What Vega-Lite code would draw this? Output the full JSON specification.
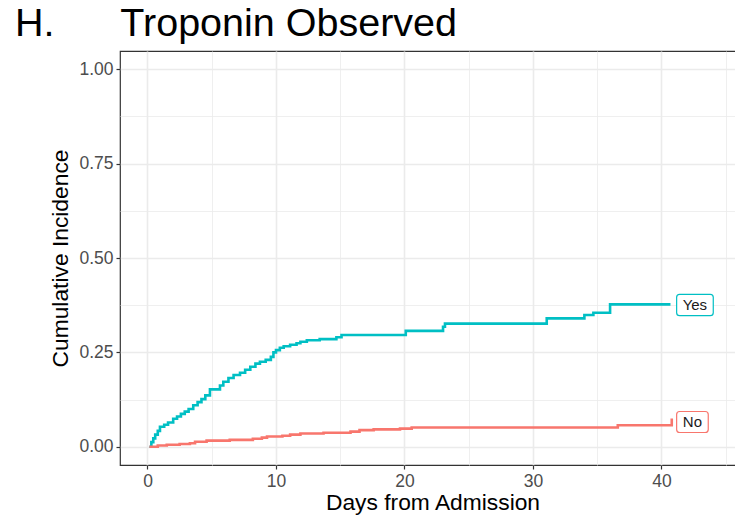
{
  "$schema": "https://vega.github.io/schema/vega-lite/v6.json",
  "width": 625,
  "height": 414,
  "autosize": {"type": "none"},
  "padding": {"left": 120, "top": 51, "right": 0, "bottom": 63},
  "background": "white",
  "title": {
    "text": "H.\u00a0\u00a0\u00a0\u00a0\u00a0\u00a0Troponin Observed",
    "anchor": "start",
    "frame": "group",
    "dx": -105,
    "offset": 7,
    "fontSize": 39.5,
    "font": "Liberation Sans",
    "fontWeight": "normal",
    "color": "#000000"
  },
  "config": {
    "view": {"stroke": "#333333", "strokeWidth": 1.2},
    "font": "Liberation Sans",
    "axis": {
      "domain": false,
      "gridColor": "#EBEBEB",
      "tickColor": "#333333",
      "tickSize": 4,
      "labelColor": "#4D4D4D",
      "labelFontSize": 17.5,
      "labelFont": "Liberation Sans",
      "titleFont": "Liberation Sans",
      "titleFontSize": 22.8,
      "titleFontWeight": "normal",
      "titleColor": "#000000"
    }
  },
  "datasets": {
    "curves": [
      {"group": "Yes", "day": 0.15, "ci": 0},
      {"group": "Yes", "day": 0.3, "ci": 0.012},
      {"group": "Yes", "day": 0.45, "ci": 0.022},
      {"group": "Yes", "day": 0.6, "ci": 0.032},
      {"group": "Yes", "day": 0.8, "ci": 0.042},
      {"group": "Yes", "day": 0.97, "ci": 0.053},
      {"group": "Yes", "day": 1.3, "ci": 0.058},
      {"group": "Yes", "day": 1.6, "ci": 0.064},
      {"group": "Yes", "day": 2.0, "ci": 0.074},
      {"group": "Yes", "day": 2.3, "ci": 0.08},
      {"group": "Yes", "day": 2.6, "ci": 0.087},
      {"group": "Yes", "day": 2.9, "ci": 0.093},
      {"group": "Yes", "day": 3.2, "ci": 0.1},
      {"group": "Yes", "day": 3.56, "ci": 0.11},
      {"group": "Yes", "day": 3.9, "ci": 0.118},
      {"group": "Yes", "day": 4.2, "ci": 0.126},
      {"group": "Yes", "day": 4.5, "ci": 0.136},
      {"group": "Yes", "day": 4.86, "ci": 0.152},
      {"group": "Yes", "day": 5.64, "ci": 0.162},
      {"group": "Yes", "day": 5.9, "ci": 0.172},
      {"group": "Yes", "day": 6.3, "ci": 0.182},
      {"group": "Yes", "day": 6.7, "ci": 0.19},
      {"group": "Yes", "day": 7.2, "ci": 0.196},
      {"group": "Yes", "day": 7.6, "ci": 0.204},
      {"group": "Yes", "day": 8.0, "ci": 0.212},
      {"group": "Yes", "day": 8.4, "ci": 0.22},
      {"group": "Yes", "day": 8.75, "ci": 0.225},
      {"group": "Yes", "day": 9.2, "ci": 0.23},
      {"group": "Yes", "day": 9.6, "ci": 0.238},
      {"group": "Yes", "day": 9.8, "ci": 0.25},
      {"group": "Yes", "day": 10.0, "ci": 0.256},
      {"group": "Yes", "day": 10.3, "ci": 0.262},
      {"group": "Yes", "day": 10.6, "ci": 0.266},
      {"group": "Yes", "day": 11.1, "ci": 0.27},
      {"group": "Yes", "day": 11.6, "ci": 0.274},
      {"group": "Yes", "day": 11.9, "ci": 0.278},
      {"group": "Yes", "day": 12.4, "ci": 0.282},
      {"group": "Yes", "day": 13.4, "ci": 0.285},
      {"group": "Yes", "day": 14.7, "ci": 0.29},
      {"group": "Yes", "day": 15.1, "ci": 0.296},
      {"group": "Yes", "day": 20.1, "ci": 0.307},
      {"group": "Yes", "day": 23.0, "ci": 0.318},
      {"group": "Yes", "day": 23.15, "ci": 0.326},
      {"group": "Yes", "day": 31.07, "ci": 0.34},
      {"group": "Yes", "day": 34.0, "ci": 0.349},
      {"group": "Yes", "day": 34.7, "ci": 0.355},
      {"group": "Yes", "day": 36.0, "ci": 0.377},
      {"group": "Yes", "day": 40.7, "ci": 0.377},
      {"group": "No", "day": 0.15, "ci": 0},
      {"group": "No", "day": 0.8, "ci": 0.003},
      {"group": "No", "day": 1.5, "ci": 0.005},
      {"group": "No", "day": 2.5, "ci": 0.007},
      {"group": "No", "day": 3.3, "ci": 0.009},
      {"group": "No", "day": 3.7, "ci": 0.013},
      {"group": "No", "day": 4.6, "ci": 0.016},
      {"group": "No", "day": 6.4, "ci": 0.018},
      {"group": "No", "day": 8.2, "ci": 0.021},
      {"group": "No", "day": 8.9, "ci": 0.024},
      {"group": "No", "day": 9.3, "ci": 0.027},
      {"group": "No", "day": 10.5, "ci": 0.029},
      {"group": "No", "day": 11.1, "ci": 0.032},
      {"group": "No", "day": 11.9, "ci": 0.035},
      {"group": "No", "day": 13.7, "ci": 0.037},
      {"group": "No", "day": 15.8, "ci": 0.04},
      {"group": "No", "day": 16.5, "ci": 0.044},
      {"group": "No", "day": 17.6, "ci": 0.046},
      {"group": "No", "day": 19.65, "ci": 0.048},
      {"group": "No", "day": 20.56, "ci": 0.051},
      {"group": "No", "day": 36.6, "ci": 0.057},
      {"group": "No", "day": 40.8, "ci": 0.075}
    ],
    "labels": [
      {"group": "Yes", "day": 42.6, "ci": 0.3755, "left": 41.18, "right": 44.03, "low": 0.3471, "high": 0.4038},
      {"group": "No", "day": 42.41, "ci": 0.0654, "left": 41.18, "right": 43.64, "low": 0.0376, "high": 0.0933}
    ]
  },
  "layer": [
    {
      "data": {"name": "curves"},
      "mark": {"type": "line", "interpolate": "step-after", "strokeWidth": 2.6, "clip": true},
      "encoding": {
        "x": {
          "field": "day", "type": "quantitative",
          "scale": {"domain": [-2.14, 46.5], "nice": false, "zero": false},
          "axis": {
            "title": "Days from Admission",
            "values": [0, 5, 10, 15, 20, 25, 30, 35, 40, 45],
            "labelExpr": "datum.value % 10 === 0 ? datum.label : ''",
            "gridWidth": {"condition": {"test": "datum.value % 10 !== 0", "value": 0.8}, "value": 1.6},
            "tickOpacity": {"condition": {"test": "datum.value % 10 !== 0", "value": 0}, "value": 1},
            "tickWidth": 1.2,
            "labelPadding": 3,
            "titlePadding": 2
          }
        },
        "y": {
          "field": "ci", "type": "quantitative",
          "scale": {"domain": [-0.0485, 1.0485], "nice": false, "zero": false},
          "axis": {
            "title": "Cumulative Incidence",
            "values": [0, 0.125, 0.25, 0.375, 0.5, 0.625, 0.75, 0.875, 1],
            "format": ".2f",
            "labelExpr": "datum.value % 0.25 === 0 ? datum.label : ''",
            "gridWidth": {"condition": {"test": "datum.value % 0.25 !== 0", "value": 0.8}, "value": 1.6},
            "tickOpacity": {"condition": {"test": "datum.value % 0.25 !== 0", "value": 0}, "value": 1},
            "tickWidth": 1.2,
            "labelPadding": 3,
            "titlePadding": 6
          }
        },
        "color": {
          "field": "group", "type": "nominal",
          "scale": {"domain": ["No", "Yes"], "range": ["#F8766D", "#00BFC4"]},
          "legend": null
        }
      }
    },
    {
      "data": {"name": "labels"},
      "mark": {"type": "rect", "fill": "white", "strokeWidth": 1.2, "cornerRadius": 3},
      "encoding": {
        "x": {"field": "left", "type": "quantitative"},
        "x2": {"field": "right"},
        "y": {"field": "low", "type": "quantitative"},
        "y2": {"field": "high"},
        "stroke": {
          "field": "group", "type": "nominal",
          "scale": {"domain": ["No", "Yes"], "range": ["#F8766D", "#00BFC4"]},
          "legend": null
        }
      }
    },
    {
      "data": {"name": "labels"},
      "mark": {"type": "text", "fontSize": 15, "color": "#1A1A1A", "align": "center", "baseline": "middle", "font": "Liberation Sans"},
      "encoding": {
        "x": {"field": "day", "type": "quantitative"},
        "y": {"field": "ci", "type": "quantitative"},
        "text": {"field": "group"}
      }
    }
  ]
}
